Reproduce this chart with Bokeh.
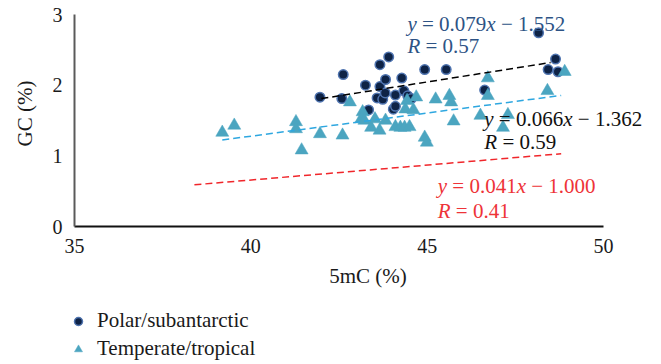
from bokeh.plotting import figure
from bokeh.models import Range1d, FixedTicker, Label, Legend, LegendItem
from bokeh.layouts import column
from bokeh.embed import file_html
from bokeh.resources import INLINE

# ---- data ----
polar_x = [41.96, 42.58, 42.62, 43.25, 43.34, 43.58, 43.66, 43.66, 43.74, 43.81,
           43.82, 43.91, 44.04, 44.10, 44.10, 44.28, 44.34, 44.45, 44.55, 44.93,
           45.54, 46.63, 48.16, 48.43, 48.64, 48.71]
polar_y = [1.83, 1.81, 2.15, 2.00, 1.65, 1.82, 2.29, 1.98, 1.80, 1.89,
           2.08, 2.40, 1.66, 1.86, 1.70, 2.10, 1.92, 1.85, 1.81, 2.22,
           2.22, 1.93, 2.74, 2.22, 2.37, 2.19]

temp_x = [39.19, 39.53, 41.28, 41.28, 41.44, 41.96, 42.60, 42.81, 43.17, 43.13,
          43.22, 43.41, 43.52, 43.65, 43.82, 44.10, 44.24, 44.36, 44.50, 44.38,
          44.43, 44.61, 44.69, 44.93, 44.99, 45.24, 45.63, 45.68, 45.75, 46.51,
          46.72, 46.72, 47.15, 47.29, 48.41, 48.90]
temp_y = [1.33, 1.43, 1.48, 1.38, 1.08, 1.31, 1.29, 1.76, 1.62, 1.52,
          1.50, 1.40, 1.52, 1.36, 1.50, 1.41, 1.40, 1.40, 1.41, 1.66,
          1.78, 1.65, 1.83, 1.26, 1.19, 1.80, 1.85, 1.76, 1.49, 1.57,
          2.10, 1.85, 1.40, 1.58, 1.92, 2.19]

# trend lines (end points as drawn)
black_line_x = [42.0, 48.5]
black_line_y = [1.81, 2.32]
blue_line_x = [39.19, 48.8]
blue_line_y = [1.225, 1.855]
red_line_x = [38.4, 48.8]
red_line_y = [0.59, 1.03]

x_ticks = [35, 40, 45, 50]
y_ticks = [0, 1, 2, 3]
x_axis_min, x_axis_max = 35, 50
y_axis_min, y_axis_max = 0, 3

series_labels = ["Polar/subantarctic", "Temperate/tropical"]

NB = "\u00a0"
MINUS = "\u2212"
# equation annotations: (segments, colour, x, y)
eq_blocks = [
    ([("y", True), (NB + "=" + NB + "0.079", False), ("x", True), (NB + MINUS + NB + "1.552", False)], "#2d5385", 44.44, 2.868),
    ([("R", True), (NB + "=" + NB + "0.57", False)], "#2d5385", 44.44, 2.56),
    ([("y", True), (NB + "=" + NB + "0.066", False), ("x", True), (NB + MINUS + NB + "1.362", False)], "#111111", 46.62, 1.524),
    ([("R", True), (NB + "=" + NB + "0.59", False)], "#111111", 46.62, 1.193),
    ([("y", True), (NB + "=" + NB + "0.041", False), ("x", True), (NB + MINUS + NB + "1.000", False)], "#ee3338", 45.30, 0.570),
    ([("R", True), (NB + "=" + NB + "0.41", False)], "#ee3338", 45.30, 0.2165),
]

FONT = "Liberation Serif"
EQ_SIZE = 21
# Times/Liberation Serif advance widths (per 1000 em)
W_UP = {NB: 250, " ": 250, "=": 564, ".": 250, MINUS: 564}
W_IT = {"y": 444, "x": 444, "R": 611}


def seg_width(txt, italic):
    tot = 0
    for ch in txt:
        tot += (W_IT if italic else W_UP).get(ch, 500)
    return tot / 1000.0 * EQ_SIZE


# ---- layout geometry (pixels) ----
W = 661
H_MAIN = 296
H_LEG = 364 - H_MAIN
FRAME_LEFT = 74        # x = 35 here
AXIS_RIGHT_PX = 603    # x = 50 here
AXIS_TOP_PX = 14       # y = 3 here
FRAME_BOTTOM = 226     # y = 0 here

xpu = (AXIS_RIGHT_PX - FRAME_LEFT) / (x_axis_max - x_axis_min)
ypu = (FRAME_BOTTOM - AXIS_TOP_PX) / (y_axis_max - y_axis_min)
x_end = x_axis_max + (W - AXIS_RIGHT_PX) / xpu
y_end = y_axis_max + AXIS_TOP_PX / ypu

POLAR_STYLE = dict(marker="circle", size=9.5, fill_color="#0e2346",
                   line_color="#4f74b0", line_width=1.5)
TEMP_STYLE = dict(marker="triangle", size=13, fill_color="#4ba5c0",
                  line_color="#4ba5c0", line_width=0.5)

p = figure(width=W, height=H_MAIN, output_backend="svg", toolbar_location=None,
           x_range=Range1d(x_axis_min, x_end), y_range=Range1d(y_axis_min, y_end),
           min_border_left=FRAME_LEFT, min_border_right=0, min_border_top=0,
           min_border_bottom=H_MAIN - FRAME_BOTTOM)
p.outline_line_color = None
p.grid.visible = False
p.background_fill_color = "white"
p.border_fill_color = "white"

p.scatter(polar_x, polar_y, **POLAR_STYLE)
p.scatter(temp_x, temp_y, **TEMP_STYLE)

p.line(black_line_x, black_line_y, line_color="#000000", line_width=1.5, line_dash="7 4")
p.line(blue_line_x, blue_line_y, line_color="#2ea7e0", line_width=1.5, line_dash="7 4")
p.line(red_line_x, red_line_y, line_color="#f0262b", line_width=1.5, line_dash="7 4")

for segs, col, x0, y0 in eq_blocks:
    off = 0.0
    for txt, it in segs:
        p.add_layout(Label(x=x0, y=y0, x_offset=off, text=txt,
                           text_font=FONT, text_font_size=f"{EQ_SIZE}px",
                           text_font_style="italic" if it else "normal",
                           text_color=col, text_baseline="alphabetic", text_align="left"))
        off += seg_width(txt, it)

# axes
for ax in (p.xaxis[0], p.yaxis[0]):
    ax.major_tick_line_color = None
    ax.minor_tick_line_color = None
    ax.major_tick_in = 0
    ax.major_tick_out = 0
    ax.major_label_text_font = FONT
    ax.major_label_text_font_size = "20px"
    ax.major_label_text_color = "#1a1a1a"
    ax.axis_label_text_font = FONT
    ax.axis_label_text_font_size = "21px"
    ax.axis_label_text_font_style = "normal"
    ax.axis_label_text_color = "#1a1a1a"
    ax.axis_line_width = 2

p.xaxis[0].ticker = FixedTicker(ticks=x_ticks)
p.yaxis[0].ticker = FixedTicker(ticks=y_ticks)
p.xaxis[0].bounds = (x_axis_min, x_axis_max)
p.yaxis[0].bounds = (y_axis_min, y_axis_max)
p.xaxis[0].axis_line_color = "#111111"
p.yaxis[0].axis_line_color = "#5a5a5a"
p.xaxis[0].axis_label = "5mC (%)"
p.yaxis[0].axis_label = "GC (%)"
p.xaxis[0].major_label_standoff = 12
p.yaxis[0].major_label_standoff = 12
p.xaxis[0].axis_label_standoff = 8
p.yaxis[0].axis_label_standoff = 13

# ---- legend strip (same series as legend keys; its ranges exclude the points) ----
q = figure(width=W, height=H_LEG, output_backend="svg", toolbar_location=None,
           x_range=Range1d(0, 1), y_range=Range1d(0, 1),
           x_axis_type=None, y_axis_type=None,
           min_border_left=0, min_border_right=0, min_border_top=0, min_border_bottom=0)
q.outline_line_color = None
q.grid.visible = False
q.border_fill_color = "white"
q.background_fill_color = "white"

LEG_GLYPH_LEFT = 68    # left edge of the legend key box, in page pixels
try:
    q.frame_align = False
    leg_x = LEG_GLYPH_LEFT
except Exception:
    leg_x = LEG_GLYPH_LEFT - FRAME_LEFT

lg_polar = q.scatter(polar_x, polar_y, **POLAR_STYLE)
lg_temp = q.scatter(temp_x, temp_y, **TEMP_STYLE)

legend = Legend(items=[LegendItem(label=series_labels[0], renderers=[lg_polar]),
                       LegendItem(label=series_labels[1], renderers=[lg_temp])],
                location=(leg_x, 3), orientation="vertical",
                glyph_width=20, glyph_height=20, label_height=20,
                label_standoff=9, spacing=3, padding=0, margin=0,
                border_line_alpha=0, background_fill_alpha=0,
                label_text_font=FONT, label_text_font_size="21px",
                label_text_color="#1a1a1a")
q.add_layout(legend, "center")

layout = column(p, q, spacing=0)
open("out.html", "w").write(file_html(layout, INLINE))
